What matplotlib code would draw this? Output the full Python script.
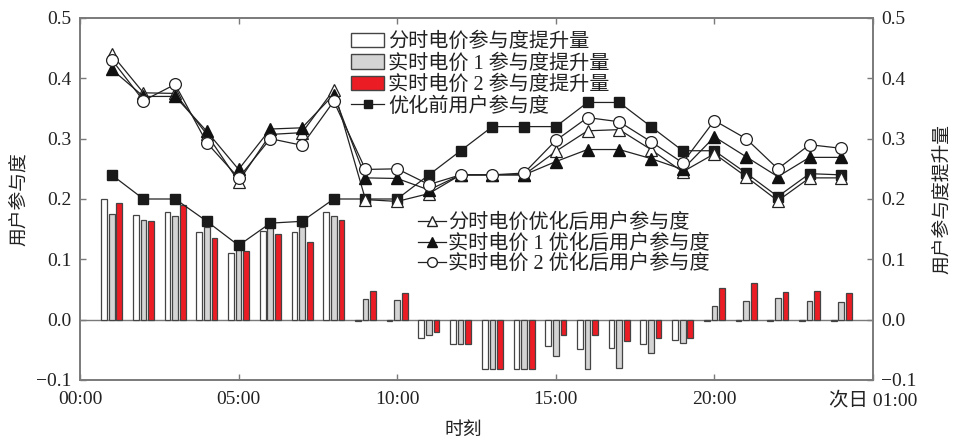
import matplotlib
matplotlib.use('Agg')
import matplotlib.pyplot as plt
from matplotlib.patches import Patch
from matplotlib.lines import Line2D
import numpy as np

plt.rcParams['font.family'] = ['Liberation Serif', 'Noto Sans CJK SC']
plt.rcParams['axes.unicode_minus'] = True

hours = list(range(1, 25))

# 参与度提升量 (bars)
tou_gain = [0.200, 0.173, 0.179, 0.146, 0.111, 0.147, 0.146, 0.179, -0.002, -0.002, -0.031, -0.041,
            -0.081, -0.081, -0.043, -0.048, -0.047, -0.041, -0.034, -0.002, -0.002, -0.002, -0.002, -0.002]
rtp1_gain = [0.175, 0.166, 0.171, 0.153, 0.117, 0.153, 0.153, 0.172, 0.035, 0.033, -0.026, -0.041,
             -0.081, -0.081, -0.060, -0.082, -0.080, -0.056, -0.038, 0.022, 0.031, 0.036, 0.031, 0.030]
rtp2_gain = [0.193, 0.163, 0.190, 0.135, 0.113, 0.142, 0.128, 0.166, 0.047, 0.044, -0.021, -0.041,
             -0.081, -0.081, -0.025, -0.026, -0.035, -0.030, -0.030, 0.052, 0.061, 0.046, 0.048, 0.045]

# 用户参与度 (lines)
before = [0.240, 0.200, 0.200, 0.163, 0.123, 0.160, 0.163, 0.200, 0.200, 0.200, 0.240, 0.280,
          0.320, 0.320, 0.320, 0.360, 0.360, 0.320, 0.280, 0.280, 0.243, 0.204, 0.242, 0.240]
tou_after = [0.440, 0.376, 0.375, 0.307, 0.229, 0.307, 0.310, 0.381, 0.199, 0.196, 0.209, 0.240,
             0.240, 0.240, 0.279, 0.313, 0.315, 0.282, 0.245, 0.275, 0.237, 0.197, 0.235, 0.235]
rtp1_after = [0.415, 0.370, 0.370, 0.312, 0.249, 0.316, 0.318, 0.373, 0.235, 0.234, 0.215, 0.240,
              0.240, 0.240, 0.262, 0.282, 0.282, 0.267, 0.249, 0.303, 0.270, 0.237, 0.269, 0.269]
rtp2_after = [0.431, 0.363, 0.390, 0.293, 0.235, 0.300, 0.289, 0.362, 0.249, 0.250, 0.224, 0.240,
              0.240, 0.243, 0.297, 0.335, 0.328, 0.295, 0.260, 0.330, 0.300, 0.250, 0.290, 0.284]

x_ticks = [0, 5, 10, 15, 20, 25]
x_labels = ['00:00', '05:00', '10:00', '15:00', '20:00', '次日 01:00']
y_ticks = [-0.1, 0.0, 0.1, 0.2, 0.3, 0.4, 0.5]

fig = plt.figure(figsize=(9.54, 4.41), dpi=100)
ax = fig.add_axes([80 / 954, 61 / 441, 793 / 954, 362 / 441])
ax2 = ax.twinx()

spine_c = '#7a7a7a'
edge_c = '#444444'
x = np.array(hours)
w = 0.18
ax.bar(x - 0.24, tou_gain, w, color='white', edgecolor=edge_c, linewidth=0.9)
ax.bar(x, rtp1_gain, w, color='#d4d4d4', edgecolor=edge_c, linewidth=0.9)
ax.bar(x + 0.24, rtp2_gain, w, color='#ec1c24', edgecolor=edge_c, linewidth=0.9)
ax.axhline(0, color=spine_c, linewidth=1.0, zorder=0.5)

lw = 0.9
ax2.plot(x, before, color='#222222', lw=lw, marker='s', ms=7.5, mfc='#1a1a1a', mec='#1a1a1a')
ax2.plot(x, tou_after, color='#222222', lw=lw, marker='^', ms=8.5, mfc='white', mec='#222222', mew=0.9)
ax2.plot(x, rtp1_after, color='#222222', lw=lw, marker='^', ms=8.5, mfc='#111111', mec='#111111')
ax2.plot(x, rtp2_after, color='#222222', lw=lw, marker='o', ms=8.5, mfc='white', mec='#222222', mew=0.9)

for a in (ax, ax2):
    a.set_xlim(0, 25)
    a.set_ylim(-0.1, 0.5)
    a.set_yticks(y_ticks)
    a.set_yticklabels(['−0.1', '0.0', '0.1', '0.2', '0.3', '0.4', '0.5'])
    for s in a.spines.values():
        s.set_color(spine_c)
        s.set_linewidth(1.2)
    a.tick_params(direction='in', length=4, color=spine_c, labelsize=14, labelcolor='#222222', width=1.0)

ax.set_xticks(x_ticks)
ax.set_xticklabels(x_labels)
ax.tick_params(axis='x', top=True, pad=8)
ax.tick_params(axis='y', pad=6)
ax2.tick_params(axis='y', pad=6)

fig.text(463 / 954, 1 - 430 / 441, '时刻', fontsize=13.5, color='#222222', ha='center', va='center')
ax.set_ylabel('用户参与度', fontsize=13.5, color='#222222', labelpad=6)
ax2.set_ylabel('用户参与度提升量', fontsize=13.5, color='#222222', labelpad=12, rotation=90)

h1 = [Patch(facecolor='white', edgecolor=edge_c),
      Patch(facecolor='#d4d4d4', edgecolor=edge_c),
      Patch(facecolor='#ec1c24', edgecolor=edge_c),
      Line2D([], [], color='#222222', lw=lw, marker='s', ms=6, mfc='#1a1a1a', mec='#1a1a1a')]
l1 = ['分时电价参与度提升量', '实时电价 1 参与度提升量', '实时电价 2 参与度提升量', '优化前用户参与度']
leg1 = ax2.legend(h1, l1, loc='upper left', bbox_to_anchor=(0.342, 0.96), frameon=False,
                  fontsize=14.5, handlelength=1.65, handleheight=0.75, handletextpad=0.2,
                  labelspacing=0.1, borderpad=0, borderaxespad=0, labelcolor='#222222')
ax2.add_artist(leg1)

h2 = [Line2D([], [], color='#222222', lw=lw, marker='^', ms=7, mfc='white', mec='#222222'),
      Line2D([], [], color='#222222', lw=lw, marker='^', ms=7, mfc='#111111', mec='#111111'),
      Line2D([], [], color='#222222', lw=lw, marker='o', ms=7, mfc='white', mec='#222222')]
l2 = ['分时电价优化后用户参与度', '实时电价 1 优化后用户参与度', '实时电价 2 优化后用户参与度']
ax2.legend(h2, l2, loc='upper left', bbox_to_anchor=(0.426, 0.46), frameon=False,
           fontsize=14.5, handlelength=1.4, handletextpad=0.1,
           labelspacing=0.05, borderpad=0, borderaxespad=0, labelcolor='#222222')

fig.savefig('out.png', dpi=100)
